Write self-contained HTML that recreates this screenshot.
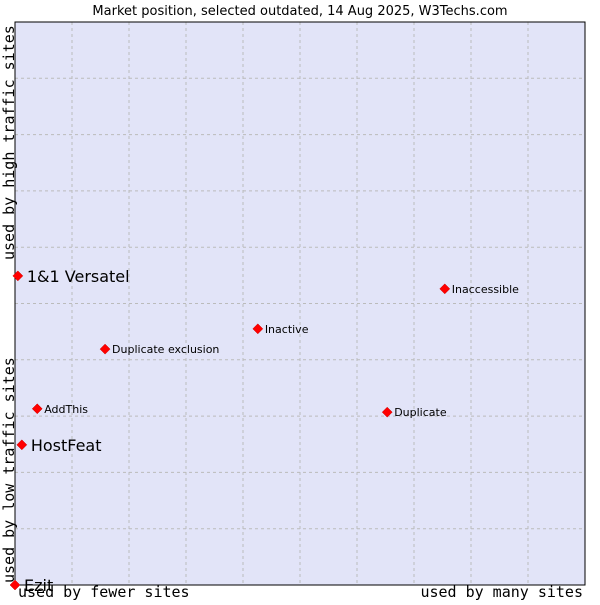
<!DOCTYPE html>
<html><head><meta charset="utf-8"><style>
body{margin:0;background:#fff;width:600px;height:600px;overflow:hidden}
svg text{font-family:"DejaVu Sans","Liberation Sans",sans-serif}
.mono{font-family:"DejaVu Sans Mono","Liberation Mono",monospace}
</style></head><body>
<svg id="c" width="600" height="600">
<text x="300" y="15" text-anchor="middle" font-size="13" fill="#000">Market position, selected outdated, 14 Aug 2025, W3Techs.com</text>
<rect x="15" y="22" width="570" height="563" fill="#e2e4f8"/>
<g id="grid"></g>
<rect x="15" y="22" width="570" height="563" fill="none" stroke="#000" stroke-width="1"/>
<g id="pts"></g>
<text class="mono" x="18" y="597" font-size="15">used by fewer sites</text>
<text class="mono" x="583" y="597" font-size="15" text-anchor="end">used by many sites</text>
<text class="mono" transform="translate(14,583) rotate(-90)" font-size="15">used by low traffic sites</text>
<text class="mono" transform="translate(14,260) rotate(-90)" font-size="15">used by high traffic sites</text>
</svg>
<script>
const names=["1&1 Versatel","HostFeat","Ezit","AddThis","Duplicate exclusion","Inactive","Inaccessible","Duplicate"];
const xs=[0.5,1.2,0,3.9,15.8,42.6,75.4,65.3];
const ys=[54.9,24.9,0,31.3,41.9,45.5,52.6,30.7];
const big=[true,true,true,false,false,false,false,false];
const L=15,T=22,W=570,H=563;
const sx=v=>L+v/100*W, sy=v=>T+H-v/100*H;
const NS="http://www.w3.org/2000/svg";
const g=document.getElementById('grid'),p=document.getElementById('pts');
for(let i=1;i<10;i++){
 const x=L+i*W/10;
 const l=document.createElementNS(NS,'line');
 
 
 l.setAttribute('x1',x);l.setAttribute('x2',x);l.setAttribute('y1',T);l.setAttribute('y2',T+H);
 l.setAttribute('stroke','#bbb');l.setAttribute('stroke-dasharray','3,3');g.appendChild(l);
 const y=T+i*H/10;
 const m=document.createElementNS(NS,'line');
 
 
 m.setAttribute('x1',L);m.setAttribute('x2',L+W);m.setAttribute('y1',y);m.setAttribute('y2',y);
 m.setAttribute('stroke','#bbb');m.setAttribute('stroke-dasharray','3,3');g.appendChild(m);
}
names.forEach((n,i)=>{
 const x=sx(xs[i]),y=sy(ys[i]);
 const d=document.createElementNS(NS,'path');
 
 
 d.setAttribute('d',`M${x-5},${y}L${x},${y-5}L${x+5},${y}L${x},${y+5}Z`);
 d.setAttribute('fill','#f00');d.setAttribute('stroke','#c00');d.setAttribute('stroke-width','0.5');p.appendChild(d);
 const t=document.createElementNS(NS,'text');
 
 
 t.setAttribute('x',x+(big[i]?9:7));t.setAttribute('y',y+(big[i]?6:4));
 t.setAttribute('font-size',big[i]?'16':'11');t.textContent=n;p.appendChild(t);
});
</script>
</body></html>
